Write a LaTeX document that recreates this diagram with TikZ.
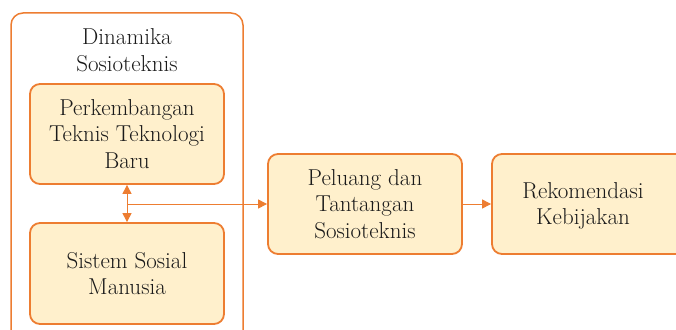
\documentclass[tikz,border=0pt]{standalone}
\usetikzlibrary{arrows.meta}
\definecolor{boxline}{HTML}{ED7D31}
\definecolor{boxfill}{HTML}{FFF0CC}
\definecolor{txt}{HTML}{1A1A1A}
\begin{document}
\begin{tikzpicture}[x=1pt,y=-1pt,
  every node/.style={font=\fontsize{23}{26.5}\selectfont, text=txt, align=center},
  card/.style={draw=boxline, fill=boxfill, line width=1.8pt, rounded corners=10pt,
    minimum width=194pt, minimum height=100pt, inner sep=0pt},
  frame/.style={draw=boxline, line width=1.5pt, rounded corners=12pt, inner sep=0pt},
  link/.style={draw=boxline, line width=1pt},
  tip/.style={-{Triangle[length=9pt,width=9pt]}},
  tips/.style={{Triangle[length=9pt,width=9pt]}-{Triangle[length=9pt,width=9pt]}}]
\useasboundingbox (0,0) rectangle (676,329);
% outer grouping frame and its title
\node[frame, minimum width=232pt, minimum height=330pt] (outer) at (127,178) {};
\node (title) at (127,50) {Dinamika\\Sosioteknis};
% inner boxes
\node[card] (tech) at (127,134) {Perkembangan\\Teknis Teknologi\\Baru};
\node[card, minimum height=101pt] (social) at (127,273.5) {Sistem Sosial\\Manusia};
% main flow
\node[card] (chance) at (365,204) {Peluang dan\\Tantangan\\Sosioteknis};
\node[card, minimum width=208pt,
  label={[xshift=-13pt, yshift=-2pt]center:Rekomendasi\\Kebijakan}] (policy) at (596,204) {};
% connectors
\draw[link, tips] (tech.south) -- (social.north);
\coordinate (split) at (tech.south |- chance.west);
\draw[link, tip] (split) -- (chance.west);
\draw[link, tip] (chance.east) -- (policy.west);
\end{tikzpicture}
\end{document}
